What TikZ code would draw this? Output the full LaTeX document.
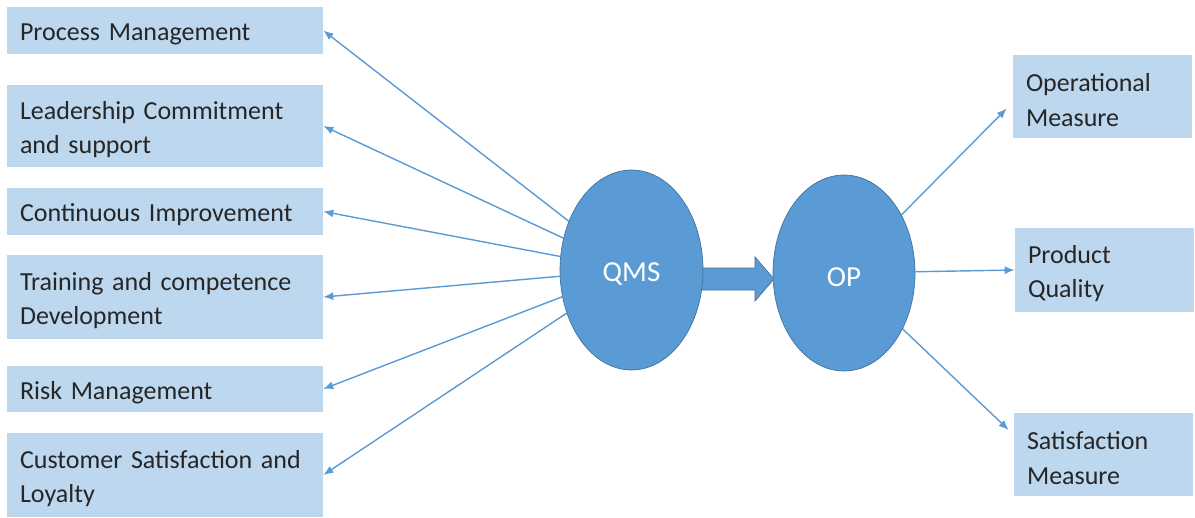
\documentclass[tikz,border=0pt]{standalone}
\usepackage{fontspec}
\setmainfont{Carlito}
\usetikzlibrary{positioning,shapes,arrows.meta}
\definecolor{boxblue}{HTML}{BDD7EE}
\definecolor{midblue}{HTML}{5B9BD5}
\definecolor{edgeblue}{HTML}{41719C}
\tikzset {
    style box/.style={
        fill=boxblue,
        draw=none,
        rectangle, % Set the shape as a rectangle
        inner xsep=2.6mm,
        inner ysep=0mm,
        text height=5mm,
        text=black!85,
        font=\fontsize{14.8}{19.8}\selectfont,
        align=left,
    },
    style left/.style={
        style box,
        text width=58mm,
    },
    style right/.style={
        style box,
        text width=30.6mm,
    },
    style bubble/.style={
        fill=midblue,
        draw=edgeblue,
        thin,
        ellipse, % Set the shape as an ellipse
        inner sep=0pt,
        text height=5.3mm,
        text=white,
        font=\fontsize{16.5}{20}\selectfont,
    },
    style push/.style={
        fill=midblue,
        draw=edgeblue,
        thin,
    },
    style link/.style={
        draw=midblue,
        line width=0.8pt,
        -{Latex[length=2mm,width=1.6mm]},
    },
}

\begin{document}
\begin{tikzpicture}[x=0.02cm, y=-0.02cm]
        \useasboundingbox (0,0) rectangle (1195,517);

        % block arrow between the two ellipses
        \draw[style push] (700,268) -- (755,268) -- (755,257) -- (774,279)
            -- (755,301) -- (755,290) -- (700,290) -- cycle;

        \node[style bubble, minimum width=28.6mm, minimum height=40mm] (qms) at (631.5,270) {QMS};
        \node[style bubble, minimum width=28.4mm, minimum height=39.2mm] (op) at (844,273) {OP};

        % left column
        \node[style left, minimum height=9.4mm] (pm) at (165,30.5) {Process Management};
        \node[style left, minimum height=16.4mm] (lc) at (165,126) {Leadership Commitment\\and support};
        \node[style left, minimum height=9.4mm] (ci) at (165,211.5) {Continuous Improvement};
        \node[style left, minimum height=16.8mm] (tc) at (165,297) {Training and competence\\Development};
        \node[style left, minimum height=9.2mm] (rm) at (165,389) {Risk Management};
        \node[style left, minimum height=16.8mm] (cs) at (165,475) {Customer Satisfaction and\\Loyalty};

        % right column
        \node[style right, minimum height=16.6mm] (om) at (1102.5,96.5) {Operational\\Measure};
        \node[style right, minimum height=16.8mm] (pq) at (1104.5,270) {Product\\Quality};
        \node[style right, minimum height=16.6mm] (sm) at (1103.5,454.5) {Satisfaction\\Measure};

        \foreach \n in {pm,lc,ci,tc,rm,cs}
            \draw[style link] (qms) -- (\n.east);

        \draw[style link] (op) -- ([xshift=-1.2mm,yshift=-2.4mm]om.west);
        \draw[style link] (op) -- (pq.west);
        \draw[style link] (op) -- ([xshift=-1mm,yshift=4.9mm]sm.west);

    \end{tikzpicture}
\end{document}
